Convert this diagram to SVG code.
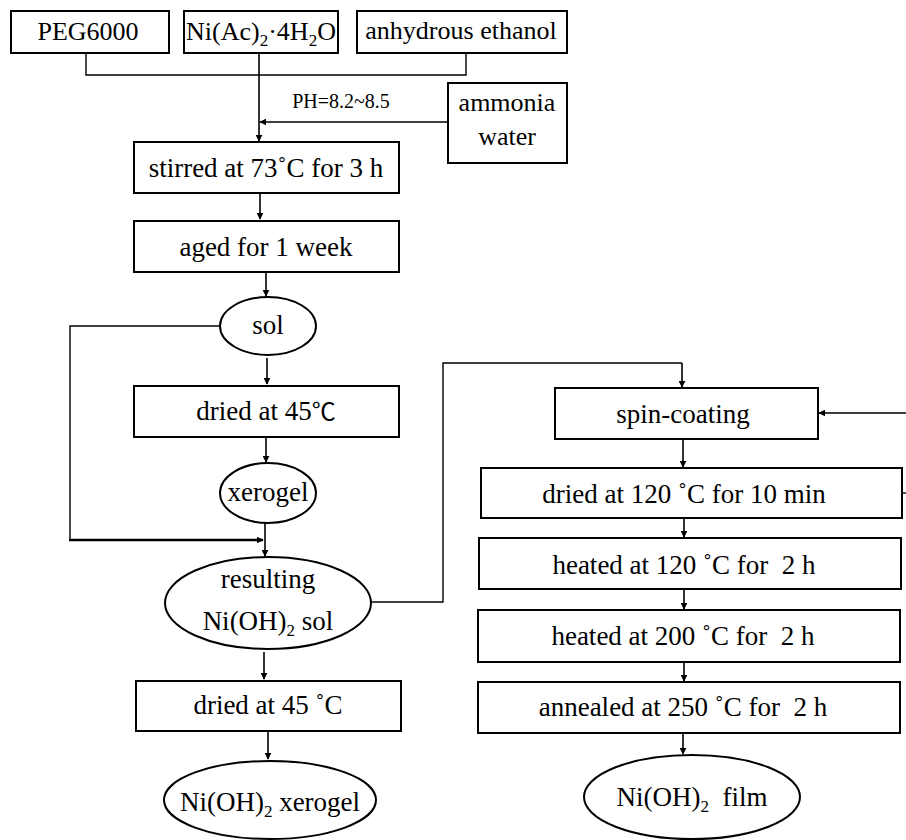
<svg xmlns="http://www.w3.org/2000/svg" width="906" height="840" viewBox="0 0 906 840" font-family="'Liberation Serif', serif">
<style>
text{font-family:"Liberation Serif",serif;font-size:27px;fill:#000;text-anchor:middle;white-space:pre}
.t26{font-size:26px}
.ph{font-size:20px}
.sub{font-size:17px}
.cjk{font-family:"Liberation Serif","Noto Sans CJK SC",serif;font-size:24px}
.box{fill:#fff;stroke:#000;stroke-width:2}
.ell{fill:#fff;stroke:#000;stroke-width:2}
.ln{fill:none;stroke:#000;stroke-width:1.4}
.ar{fill:none;stroke:#000;stroke-width:1.6;marker-end:url(#ah)}
</style>
<defs>
<marker id="ah" viewBox="0 0 10 10" refX="9" refY="5" markerWidth="7" markerHeight="7" markerUnits="userSpaceOnUse" orient="auto">
<path d="M0,0 L10,5 L0,10 z" fill="#000"/>
</marker>
</defs>
<rect width="906" height="840" fill="#fff"/>
<g id="connectors">
<path class="ln" d="M86,53 V75 H466 V53"/>
<path class="ar" d="M259,53 V141"/>
<path class="ar" d="M448,122 H260"/>
<path class="ar" d="M260,193 V219"/>
<path class="ar" d="M266,272 V296"/>
<path class="ln" d="M220,326 H70 V540"/>
<path class="ar" d="M69,540 H263" style="stroke-width:2.4"/>
<path class="ar" d="M267,358 V384"/>
<path class="ar" d="M266,438 V462"/>
<path class="ar" d="M265,523 V556"/>
<path class="ar" d="M264,652 V679"/>
<path class="ar" d="M268,731 V759"/>
<path class="ln" d="M371,602 H443 V363 H682"/>
<path class="ar" d="M682,363 V387"/>
<path class="ar" d="M906,413 H819"/>
<path class="ar" d="M683,439 V467"/>
<path class="ln" d="M902,493 H906"/>
<path class="ar" d="M684,519 V537"/>
<path class="ar" d="M684,590 V609"/>
<path class="ar" d="M684,663 V681"/>
<path class="ar" d="M683,734 V754"/>
</g>
<g id="peg">
<rect class="box" x="11" y="11" width="158" height="42"/>
<text class="t26" x="88" y="40">PEG6000</text>
</g>
<g id="niac">
<rect class="box" x="184" y="11" width="154" height="42"/>
<text class="t26" x="261" y="40">Ni(Ac)<tspan class="sub" dy="6">2</tspan><tspan dy="-6">·4H</tspan><tspan class="sub" dy="6">2</tspan><tspan dy="-6">O</tspan></text>
</g>
<g id="ethanol">
<rect class="box" x="357" y="11" width="210" height="42"/>
<text class="t26" x="461" y="39">anhydrous ethanol</text>
</g>
<g id="ph">
<text class="ph" x="341" y="108">PH=8.2~8.5</text>
</g>
<g id="ammonia">
<rect class="box" x="448" y="83" width="119" height="80"/>
<text class="t26" x="507" y="111">ammonia</text>
<text class="t26" x="507" y="145">water</text>
</g>
<g id="stirred">
<rect class="box" x="134" y="142" width="265" height="51"/>
<text x="266" y="177">stirred at 73˚C for 3 h</text>
</g>
<g id="aged">
<rect class="box" x="134" y="221" width="265" height="51"/>
<text x="266" y="256">aged for 1 week</text>
</g>
<g id="sol">
<ellipse class="ell" cx="268" cy="326" rx="48" ry="29"/>
<text x="268" y="334">sol</text>
</g>
<g id="dried45a">
<rect class="box" x="134" y="386" width="265" height="51"/>
<text x="266" y="420">dried at 45<tspan class="cjk">℃</tspan></text>
</g>
<g id="xerogel">
<ellipse class="ell" cx="268" cy="493" rx="48" ry="30"/>
<text x="268" y="501">xerogel</text>
</g>
<g id="resulting">
<ellipse class="ell" cx="268" cy="603" rx="103" ry="46"/>
<text x="268" y="588">resulting</text>
<text x="268" y="630">Ni(OH)<tspan class="sub" dy="6">2</tspan><tspan dy="-6"> sol</tspan></text>
</g>
<g id="dried45b">
<rect class="box" x="136" y="681" width="265" height="50"/>
<text x="268" y="714">dried at 45 ˚C</text>
</g>
<g id="nixerogel">
<ellipse class="ell" cx="270" cy="800" rx="106" ry="39"/>
<text x="270" y="811">Ni(OH)<tspan class="sub" dy="6">2</tspan><tspan dy="-6"> xerogel</tspan></text>
</g>
<g id="spin">
<rect class="box" x="555" y="388" width="263" height="51"/>
<text x="683" y="423">spin-coating</text>
</g>
<g id="dried120">
<rect class="box" x="481" y="468" width="421" height="50"/>
<text x="684" y="503">dried at 120 ˚C for 10 min</text>
</g>
<g id="heated120">
<rect class="box" x="479" y="538" width="422" height="51"/>
<text x="684" y="574">heated at 120 ˚C for  2 h</text>
</g>
<g id="heated200">
<rect class="box" x="478" y="610" width="422" height="52"/>
<text x="683" y="645">heated at 200 ˚C for  2 h</text>
</g>
<g id="annealed">
<rect class="box" x="478" y="682" width="422" height="51"/>
<text x="683" y="716">annealed at 250 ˚C for  2 h</text>
</g>
<g id="film">
<ellipse class="ell" cx="692" cy="797" rx="108" ry="42"/>
<text x="692" y="806">Ni(OH)<tspan class="sub" dy="6">2</tspan><tspan dy="-6">  film</tspan></text>
</g>
</svg>
